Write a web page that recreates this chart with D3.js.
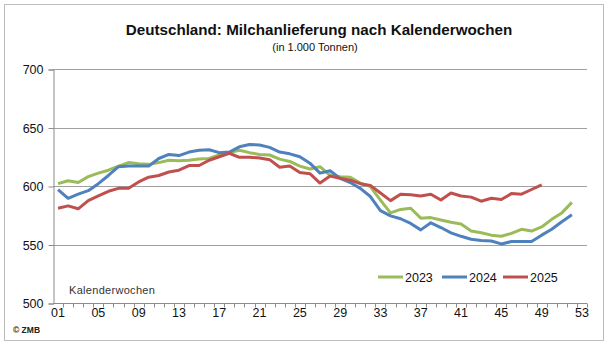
<!DOCTYPE html>
<html>
<head>
<meta charset="utf-8">
<script src="https://cdn.jsdelivr.net/npm/d3@7"></script>
<style>
  body { margin: 0; background: #fff; }
  svg { font-family: "Liberation Sans", Arial, sans-serif; }
</style>
</head>
<body>
<div id="chart"></div>
<script>
const weeks = d3.range(1, 54);
const tickWeeks = ["01", "05", "09", "13", "17", "21", "25", "29", "33", "37", "41", "45", "49", "53"];
const yTicks = [500, 550, 600, 650, 700];

const values2023 = [602, 604.5, 603, 608, 611, 613.5, 617, 620, 619, 618.5,
  620, 622, 621.5, 622, 623, 623.5, 626.5, 628.5, 630.5, 628.5,
  627, 626.5, 623, 621, 617, 614.5, 616.5, 609, 608, 607.5,
  602.5, 599.5, 588, 577, 580, 581, 572.5, 573, 571, 569,
  567.5, 561.5, 560, 558, 557, 559.5, 563, 561.5, 565, 571.5,
  577, 586];
const values2024 = [597, 589.5, 593, 596, 602, 609, 616.5, 617, 617, 617,
  623.5, 627, 626, 629, 630.5, 631, 628.5, 629, 633.5, 635.5,
  635, 633, 629, 627.5, 625, 619.5, 611, 613, 606.5, 603,
  598, 591, 579, 574.5, 572, 568, 562.5, 568.5, 564.5, 560,
  557, 554.5, 553.5, 553, 550.5, 552.5, 552.5, 552.5, 558, 563,
  569.5, 575.5];
const values2025 = [581, 583, 580.5, 587.5, 591.5, 595.5, 598, 598, 603.5, 607.5,
  609, 612, 613.5, 617.5, 617.5, 622, 625, 628, 624.5, 624.5,
  624, 622.5, 616, 617, 611.5, 610.5, 602.5, 608.5, 606.5, 605,
  602, 600.5, 594, 587.5, 593, 592.5, 591.5, 593, 588, 594,
  591.5, 590.5, 587, 589.5, 588.5, 593.5, 593, 597, 601];

const series = [
  { name: "2023", values: values2023, color: "#9bbb59" },
  { name: "2024", values: values2024, color: "#4f81bd" },
  { name: "2025", values: values2025, color: "#c0504d" }
];

const width = 608;
const height = 344;
const margin = { top: 69, right: 21, bottom: 41, left: 53 };

const svg = d3
  .select("#chart")
  .append("svg")
  .attr("width", width)
  .attr("height", height);

// outer frame
svg
  .append("rect")
  .attr("x", 4.5)
  .attr("y", 4.5)
  .attr("width", width - 9)
  .attr("height", height - 8)
  .attr("fill", "#fff")
  .attr("stroke", "#bdbdbd");

// titles
svg
  .append("text")
  .attr("x", 319)
  .attr("y", 35)
  .attr("text-anchor", "middle")
  .attr("font-size", 15.2)
  .attr("font-weight", "bold")
  .attr("fill", "#111")
  .text("Deutschland: Milchanlieferung nach Kalenderwochen");

svg
  .append("text")
  .attr("x", 315)
  .attr("y", 51)
  .attr("text-anchor", "middle")
  .attr("font-size", 11)
  .attr("fill", "#111")
  .text("(in 1.000 Tonnen)");

const x = d3
  .scaleBand()
  .domain(weeks)
  .range([margin.left, width - margin.right]);

const y = d3
  .scaleLinear()
  .domain([500, 700])
  .range([height - margin.bottom, margin.top]);

const xMid = (w) => x(w) + x.bandwidth() / 2;

// gridlines
svg
  .append("g")
  .selectAll("line")
  .data(yTicks.slice(1))
  .enter()
  .append("line")
  .attr("x1", margin.left)
  .attr("x2", width - margin.right)
  .attr("y1", (d) => Math.round(y(d)) + 0.5)
  .attr("y2", (d) => Math.round(y(d)) + 0.5)
  .attr("stroke", "#a0a0a0");

// Y axis
const yAxis = svg
  .append("g")
  .attr("transform", `translate(${margin.left + 0.5},0.5)`)
  .call(d3.axisLeft(y).tickValues(yTicks).tickSize(5).tickPadding(5));
yAxis.select(".domain").attr("stroke", "#8c8c8c");
yAxis.selectAll(".tick line").attr("stroke", "#8c8c8c");
yAxis
  .selectAll(".tick text")
  .attr("font-size", 12.5)
  .attr("font-family", "Liberation Sans, Arial, sans-serif")
  .attr("fill", "#111");

// X axis: ticks between weeks, labels every fourth week
const xBase = Math.round(y(500)) + 0.5;
const xAxis = svg.append("g");
xAxis
  .append("line")
  .attr("x1", margin.left)
  .attr("x2", width - margin.right)
  .attr("y1", xBase)
  .attr("y2", xBase)
  .attr("stroke", "#8c8c8c");
xAxis
  .selectAll("line.tick")
  .data(weeks)
  .enter()
  .append("line")
  .attr("class", "tick")
  .attr("x1", (d) => Math.round(x(d) + x.bandwidth()) + 0.5)
  .attr("x2", (d) => Math.round(x(d) + x.bandwidth()) + 0.5)
  .attr("y1", xBase)
  .attr("y2", xBase + 4)
  .attr("stroke", "#8c8c8c");
xAxis
  .selectAll("text")
  .data(tickWeeks)
  .enter()
  .append("text")
  .attr("x", (d) => xMid(+d))
  .attr("y", 317)
  .attr("text-anchor", "middle")
  .attr("font-size", 12.5)
  .attr("fill", "#111")
  .text((d) => d);

svg
  .append("text")
  .attr("x", 69)
  .attr("y", 294)
  .attr("font-size", 11)
  .attr("letter-spacing", 0.3)
  .attr("fill", "#333")
  .text("Kalenderwochen");

svg
  .append("text")
  .attr("x", 13)
  .attr("y", 333)
  .attr("font-size", 8.5)
  .attr("font-weight", "bold")
  .attr("fill", "#222")
  .text("© ZMB");

// lines
const line = d3
  .line()
  .x((d, i) => xMid(weeks[i]))
  .y((d) => y(d));

svg
  .append("g")
  .selectAll("path")
  .data(series)
  .enter()
  .append("path")
  .attr("fill", "none")
  .attr("stroke", (d) => d.color)
  .attr("stroke-width", 3)
  .attr("stroke-linejoin", "round")
  .attr("d", (d) => line(d.values));

// legend
const legendX = [378, 442, 503];
const legend = svg
  .append("g")
  .selectAll("g")
  .data(series)
  .enter()
  .append("g")
  .attr("transform", (d, i) => `translate(${legendX[i]},277)`);
legend
  .append("line")
  .attr("x1", 0)
  .attr("x2", 25)
  .attr("stroke", (d) => d.color)
  .attr("stroke-width", 3);
legend
  .append("text")
  .attr("x", 27)
  .attr("y", 4.5)
  .attr("font-size", 12.5)
  .attr("fill", "#111")
  .text((d) => d.name);
</script>
</body>
</html>
